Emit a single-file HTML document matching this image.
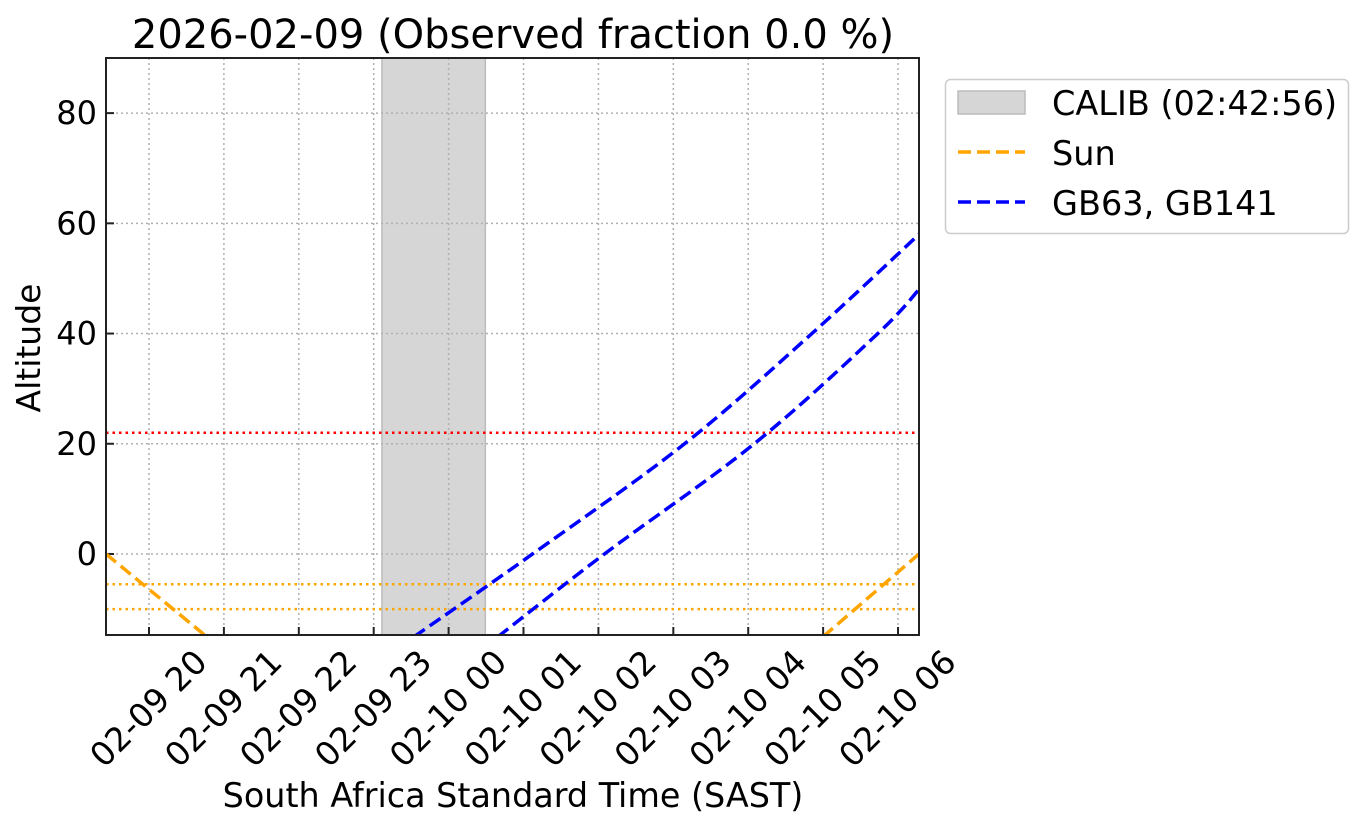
<!DOCTYPE html>
<html><head><meta charset="utf-8"><style>body{margin:0;background:#fff}svg{font-family:"DejaVu Sans","Liberation Sans",sans-serif}</style></head>
<body>
<svg id="c" width="1363" height="829"></svg>
<script>
const xTickLabels=["02-09 20","02-09 21","02-09 22","02-09 23","02-10 00","02-10 01","02-10 02","02-10 03","02-10 04","02-10 05","02-10 06"];
const yTicks=[0,20,40,60,80];
const sunH=[-0.574,0.77,9.0,10.28];
const sunAlt=[0,-15,-15,0];
const gb63H=[3.54,5.12,7.15,8.85,10.28];
const gb63Alt=[-15,0,20,40,58];
const gb141H=[4.66,6.08,8.08,9.73,10.28];
const gb141Alt=[-15,0,20,40,48];
const calib=[3.11,4.49];
const hLines=[{v:22,c:"red"},{v:-5.5,c:"orange"},{v:-10,c:"orange"}];
const L=106,R=919,T=58,B=635,xmin=-0.574,xmax=10.28,ymin=-14.7,ymax=90;
const X=h=>L+(h-xmin)/(xmax-xmin)*(R-L);
const Y=v=>B-(v-ymin)/(ymax-ymin)*(B-T);
const svg=document.getElementById('c');const NS="http://www.w3.org/2000/svg";
function mk(t,a,p){const e=document.createElementNS(NS,t);for(const k in a)e.setAttribute(k,a[k]);(p||svg).appendChild(e);return e;}
const clip=mk('clipPath',{id:'pc'});mk('rect',{x:L,y:T,width:R-L,height:B-T},clip);
const band=mk('rect',{x:X(calib[0]),y:T,width:X(calib[1])-X(calib[0]),height:B-T,fill:'#d6d6d6',stroke:'#bbb','stroke-width':1.5});


xTickLabels.forEach((s,i)=>{const x=X(i);
 const g=mk('line',{x1:x,x2:x,y1:T,y2:B,stroke:'#b0b0b0','stroke-dasharray':'2,3','stroke-width':1.5});
 
 
 mk('line',{x1:x,x2:x,y1:B,y2:B-8,stroke:'#222','stroke-width':2});
 const t=mk('text',{x:x-1,y:720,'font-size':33,'text-anchor':'middle',transform:`rotate(-45 ${x-1} 708)`});t.textContent=s;
 
 
});
yTicks.forEach(v=>{const y=Y(v);
 const g=mk('line',{x1:L,x2:R,y1:y,y2:y,stroke:'#b0b0b0','stroke-dasharray':'2,3','stroke-width':1.5});
 
 
 mk('line',{x1:L,x2:L+8,y1:y,y2:y,stroke:'#222','stroke-width':2});
 const t=mk('text',{x:97,y:y+11,'font-size':32,'text-anchor':'end'});t.textContent=v;
 
 
});
hLines.forEach(h=>{const l=mk('line',{x1:L,x2:R,y1:Y(h.v),y2:Y(h.v),stroke:h.c,'stroke-width':2.5,'stroke-dasharray':'2.5,4'});
 
 });
function curve(hs,as,col,name){
 const P=hs.map((h,i)=>[X(h),Y(as[i])]);
 let d='M'+P[0][0]+','+P[0][1];
 for(let i=0;i<P.length-1;i++){const p0=P[Math.max(0,i-1)],p1=P[i],p2=P[i+1],p3=P[Math.min(P.length-1,i+2)];
  d+=`C${p1[0]+(p2[0]-p0[0])/6},${p1[1]+(p2[1]-p0[1])/6} ${p2[0]-(p3[0]-p1[0])/6},${p2[1]-(p3[1]-p1[1])/6} ${p2[0]},${p2[1]}`;}
 const p=mk('path',{d:d,fill:'none',stroke:col,'stroke-width':3.5,'stroke-dasharray':'13,6','clip-path':'url(#pc)'});
 
 }
curve(sunH.slice(0,2),sunAlt.slice(0,2),'orange','sun-curve-evening');
curve(sunH.slice(2),sunAlt.slice(2),'orange','sun-curve-morning');
curve(gb63H,gb63Alt,'blue','gb63-curve');
curve(gb141H,gb141Alt,'blue','gb141-curve');
mk('rect',{x:L,y:T,width:R-L,height:B-T,fill:'none',stroke:'#222','stroke-width':2});
</script>
<svg width="1363" height="829" style="position:absolute;left:0;top:0">
<text x="513" y="48" font-size="40" text-anchor="middle" font-family="DejaVu Sans,sans-serif">2026-02-09 (Observed fraction 0.0 %)</text>
<text x="513" y="807" font-size="33.4" text-anchor="middle" font-family="DejaVu Sans,sans-serif">South Africa Standard Time (SAST)</text>
<text x="40" y="348" font-size="33" text-anchor="middle" transform="rotate(-90 40 348)" font-family="DejaVu Sans,sans-serif">Altitude</text>
<g font-family="DejaVu Sans,sans-serif" font-size="33.5">
<rect x="945.5" y="79.5" width="403" height="154" rx="5" fill="#fff" stroke="#ccc" stroke-width="1.5"/>
<rect x="958" y="91" width="67" height="23" fill="#d6d6d6" stroke="#bbb" stroke-width="1.5"/>
<text x="1052" y="115">CALIB (02:42:56)</text>
<line x1="958" x2="1025" y1="152" y2="152" stroke="orange" stroke-width="3.5" stroke-dasharray="13,6"/>
<text x="1052" y="165">Sun</text>
<line x1="958" x2="1025" y1="202" y2="202" stroke="blue" stroke-width="3.5" stroke-dasharray="13,6"/>
<text x="1052" y="215">GB63, GB141</text>
</g>
</svg>
</body></html>
